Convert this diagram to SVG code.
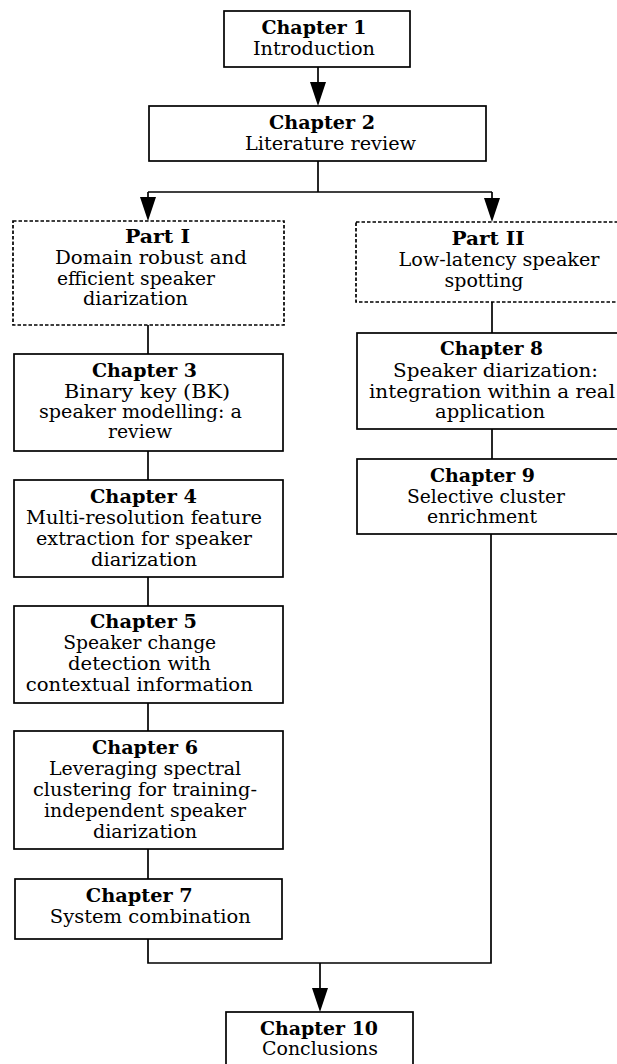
<svg xmlns="http://www.w3.org/2000/svg" width="617" height="1064" viewBox="0 0 617 1064">
<defs>
<style>
.box{fill:#fff;stroke:#000;stroke-width:1.7}
.dash{fill:#fff;stroke:#000;stroke-width:1.7;stroke-dasharray:3.5 2}
.c{fill:none;stroke:#000;stroke-width:1.7}
.t text{text-anchor:middle;fill:#000}
.b{font-weight:bold}
</style>
</defs>
<rect width="617" height="1064" fill="#fff"/>
<g id="connectors">
<line class="c" x1="318" y1="67" x2="318" y2="90"/>
<polyline class="c" points="318,161 318,192"/>
<polyline class="c" points="148,192 492,192"/>
<line class="c" x1="148" y1="192" x2="148" y2="205"/>
<line class="c" x1="492" y1="192" x2="492" y2="206"/>
<line class="c" x1="148" y1="325" x2="148" y2="354"/>
<line class="c" x1="148" y1="451" x2="148" y2="480"/>
<line class="c" x1="148" y1="577" x2="148" y2="606"/>
<line class="c" x1="148" y1="703" x2="148" y2="731"/>
<line class="c" x1="148" y1="849" x2="148" y2="879"/>
<line class="c" x1="492" y1="302" x2="492" y2="333"/>
<line class="c" x1="492" y1="429" x2="492" y2="459"/>
<polyline class="c" points="148,939 148,963 491,963 491,534"/>
<line class="c" x1="320" y1="963" x2="320" y2="995"/>
<path d="M310,82 L326,82 L318,106 Z"/>
<path d="M140,197 L156,197 L148,221 Z"/>
<path d="M484,198 L500,198 L492,222 Z"/>
<path d="M312,988 L328,988 L320,1012 Z"/>
</g>
<g class="t" font-family="'DejaVu Serif','Liberation Serif',serif" font-size="18">
<g id="ch1">
<rect class="box" x="224" y="11" width="186" height="56"/>
<text class="b" x="314" y="34" textLength="105" lengthAdjust="spacingAndGlyphs">Chapter 1</text>
<text x="314" y="55" textLength="122" lengthAdjust="spacingAndGlyphs">Introduction</text>
</g>
<g id="ch2">
<rect class="box" x="149" y="106" width="337" height="55"/>
<text class="b" x="322" y="129" textLength="106" lengthAdjust="spacingAndGlyphs">Chapter 2</text>
<text x="330.5" y="150" textLength="171" lengthAdjust="spacingAndGlyphs">Literature review</text>
</g>
<g id="part1">
<rect class="dash" x="13" y="221" width="271" height="104"/>
<text class="b" x="157.5" y="243" textLength="65" lengthAdjust="spacingAndGlyphs">Part I</text>
<text x="151" y="264" textLength="192" lengthAdjust="spacingAndGlyphs">Domain robust and</text>
<text x="136" y="285" textLength="158" lengthAdjust="spacingAndGlyphs">efficient speaker</text>
<text x="135.5" y="305" textLength="105" lengthAdjust="spacingAndGlyphs">diarization</text>
</g>
<g id="ch3">
<rect class="box" x="14" y="354" width="269" height="97"/>
<text class="b" x="144.5" y="377" textLength="105" lengthAdjust="spacingAndGlyphs">Chapter 3</text>
<text x="147" y="398" textLength="166" lengthAdjust="spacingAndGlyphs">Binary key (BK)</text>
<text x="140.5" y="418" textLength="203" lengthAdjust="spacingAndGlyphs">speaker modelling: a</text>
<text x="140" y="438" textLength="64" lengthAdjust="spacingAndGlyphs">review</text>
</g>
<g id="ch4">
<rect class="box" x="14" y="480" width="269" height="97"/>
<text class="b" x="143.5" y="503" textLength="107" lengthAdjust="spacingAndGlyphs">Chapter 4</text>
<text x="144" y="524" textLength="236" lengthAdjust="spacingAndGlyphs">Multi-resolution feature</text>
<text x="144" y="545" textLength="216" lengthAdjust="spacingAndGlyphs">extraction for speaker</text>
<text x="144" y="566" textLength="106" lengthAdjust="spacingAndGlyphs">diarization</text>
</g>
<g id="ch5">
<rect class="box" x="14" y="606" width="269" height="97"/>
<text class="b" x="143.5" y="628" textLength="107" lengthAdjust="spacingAndGlyphs">Chapter 5</text>
<text x="139.7" y="649" textLength="153" lengthAdjust="spacingAndGlyphs">Speaker change</text>
<text x="139.5" y="670" textLength="143" lengthAdjust="spacingAndGlyphs">detection with</text>
<text x="139.3" y="691" textLength="227" lengthAdjust="spacingAndGlyphs">contextual information</text>
</g>
<g id="ch6">
<rect class="box" x="14" y="731" width="269" height="118"/>
<text class="b" x="145" y="754" textLength="106" lengthAdjust="spacingAndGlyphs">Chapter 6</text>
<text x="145" y="775" textLength="192" lengthAdjust="spacingAndGlyphs">Leveraging spectral</text>
<text x="145" y="796" textLength="224" lengthAdjust="spacingAndGlyphs">clustering for training-</text>
<text x="145" y="817" textLength="202" lengthAdjust="spacingAndGlyphs">independent speaker</text>
<text x="145" y="838" textLength="104" lengthAdjust="spacingAndGlyphs">diarization</text>
</g>
<g id="ch7">
<rect class="box" x="15" y="879" width="267" height="60"/>
<text class="b" x="139.3" y="902" textLength="107" lengthAdjust="spacingAndGlyphs">Chapter 7</text>
<text x="150.3" y="923" textLength="201" lengthAdjust="spacingAndGlyphs">System combination</text>
</g>
<g id="part2">
<rect class="dash" x="356" y="222" width="274" height="80"/>
<text class="b" x="488" y="245" textLength="73" lengthAdjust="spacingAndGlyphs">Part II</text>
<text x="499" y="266" textLength="201" lengthAdjust="spacingAndGlyphs">Low-latency speaker</text>
<text x="484" y="287" textLength="79" lengthAdjust="spacingAndGlyphs">spotting</text>
</g>
<g id="ch8">
<rect class="box" x="357" y="333" width="273" height="96"/>
<text class="b" x="491.5" y="355" textLength="103" lengthAdjust="spacingAndGlyphs">Chapter 8</text>
<text x="495.5" y="377" textLength="205" lengthAdjust="spacingAndGlyphs">Speaker diarization:</text>
<text x="492" y="398" textLength="246" lengthAdjust="spacingAndGlyphs">integration within a real</text>
<text x="490" y="418" textLength="110" lengthAdjust="spacingAndGlyphs">application</text>
</g>
<g id="ch9">
<rect class="box" x="357" y="459" width="273" height="75"/>
<text class="b" x="482.5" y="482" textLength="105" lengthAdjust="spacingAndGlyphs">Chapter 9</text>
<text x="486" y="503" textLength="158" lengthAdjust="spacingAndGlyphs">Selective cluster</text>
<text x="482" y="523" textLength="110" lengthAdjust="spacingAndGlyphs">enrichment</text>
</g>
<g id="ch10">
<rect class="box" x="226" y="1012" width="187" height="70"/>
<text class="b" x="319" y="1035" textLength="118" lengthAdjust="spacingAndGlyphs">Chapter 10</text>
<text x="320" y="1055" textLength="116" lengthAdjust="spacingAndGlyphs">Conclusions</text>
</g>
</g>
</svg>
